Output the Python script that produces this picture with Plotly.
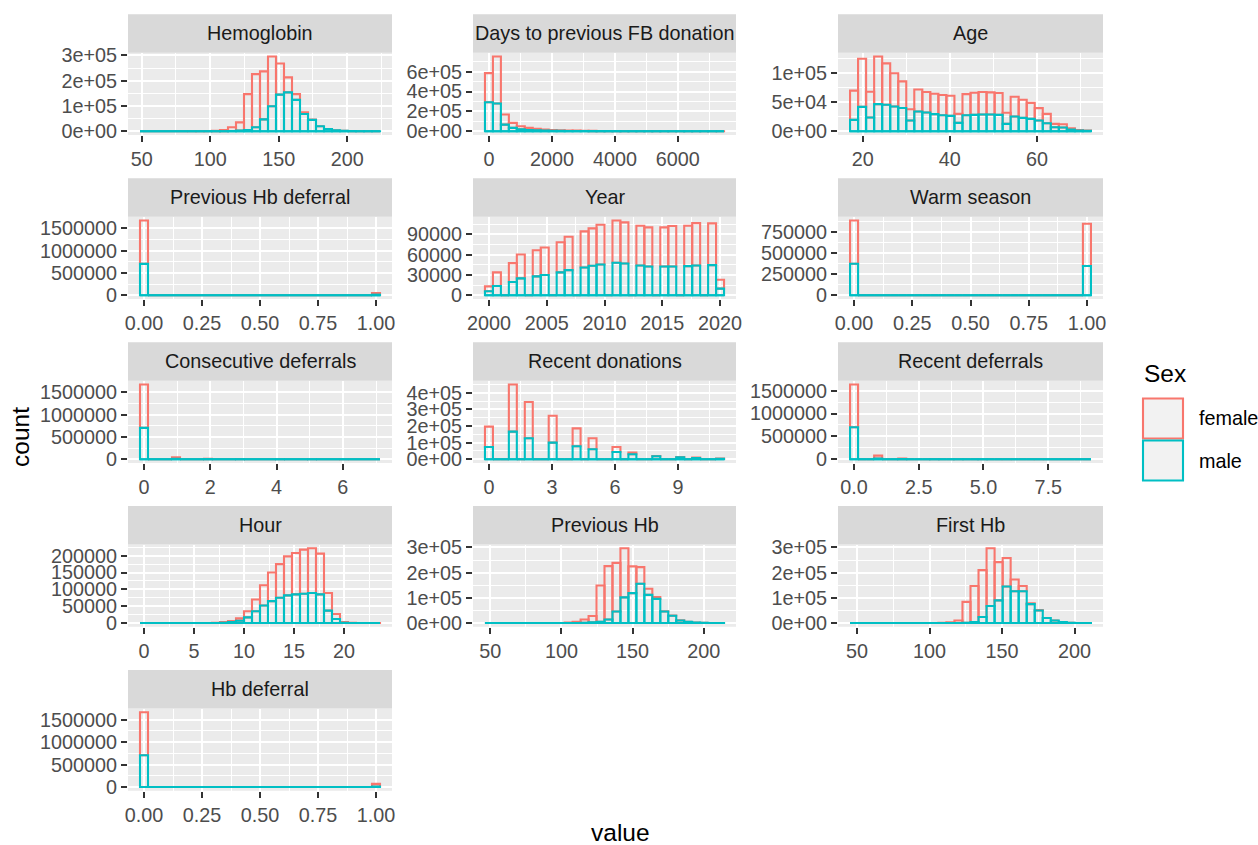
import plotly.graph_objects as go

W, H = 1258, 845
FEMALE = "#F8766D"
MALE = "#00BFC4"
FONT = "Liberation Sans, Arial, sans-serif"

# ---------------- data (30 histogram bins per panel) ----------------
titles = ["Hemoglobin", "Days to previous FB donation", "Age",
          "Previous Hb deferral", "Year", "Warm season",
          "Consecutive deferrals", "Recent donations", "Recent deferrals",
          "Hour", "Previous Hb", "First Hb", "Hb deferral"]

# centre of first and last bin for each panel
bin_first = [51.7, 0, 18, 0, 2000, 0, 0, 0, 0, 0, 49, 48, 0]
bin_last = [221, 7340, 71.5, 1, 2020, 1, 7, 11, 9, 23.2, 211.5, 208.5, 1]

hemoglobin_male = [0, 0, 0, 0, 0, 0, 0, 0, 0, 100, 300, 1000, 3000, 5000, 16000, 47000, 99000, 145000, 154000, 124000, 68000, 45000, 20000, 9000, 4000, 1500, 600, 200, 100, 50]
hemoglobin_female = [0, 0, 0, 0, 0, 0, 100, 200, 500, 1400, 4700, 15000, 32000, 142000, 210000, 190000, 197000, 123000, 59000, 23000, 7000, 1000, 0, 0, 0, 0, 0, 0, 0, 0]

days_male = [292000, 279000, 67000, 34000, 20000, 13000, 10000, 7000, 5000, 4000, 3000, 2400, 2000, 1600, 1300, 1100, 900, 750, 650, 520, 440, 360, 300, 240, 200, 160, 120, 80, 60, 40]
days_female = [293000, 474000, 101000, 50000, 30000, 21000, 14000, 10000, 8000, 6000, 4500, 3600, 3000, 2400, 2000, 1700, 1400, 1150, 950, 780, 660, 540, 450, 360, 300, 240, 180, 120, 90, 60]

age_male = [19700, 42000, 23700, 46800, 45700, 42800, 40000, 18500, 34000, 32400, 29500, 27700, 26600, 14500, 27700, 28300, 28900, 28900, 28300, 12700, 25400, 23100, 21400, 18500, 13900, 6900, 6400, 2900, 1200, 600]
age_female = [50300, 83000, 44300, 82200, 71300, 57200, 46000, 19500, 38000, 35200, 35200, 34700, 34700, 15500, 36300, 38200, 38700, 38100, 37700, 19100, 34100, 31200, 27600, 21400, 16100, 5800, 5700, 2300, 1100, 500]

prev_def_male = [705000, 0, 0, 0, 0, 0, 0, 0, 0, 0, 0, 0, 0, 0, 0, 0, 0, 0, 0, 0, 0, 0, 0, 0, 0, 0, 0, 0, 0, 13000]
prev_def_female = [975000, 0, 0, 0, 0, 0, 0, 0, 0, 0, 0, 0, 0, 0, 0, 0, 0, 0, 0, 0, 0, 0, 0, 0, 0, 0, 0, 0, 0, 37000]

year_male = [5900, 13700, 0, 19600, 25000, 0, 27900, 29900, 0, 33800, 37200, 0, 41100, 43600, 45500, 0, 48000, 47000, 0, 44000, 42600, 0, 42600, 42600, 0, 43100, 44000, 0, 44500, 9800]
year_female = [7300, 20100, 0, 27900, 35200, 0, 38700, 40600, 0, 44500, 49400, 0, 53400, 55300, 58700, 0, 62600, 60700, 0, 58800, 57700, 0, 57700, 59700, 0, 59700, 62700, 0, 61700, 13200]

warm_male = [372000, 0, 0, 0, 0, 0, 0, 0, 0, 0, 0, 0, 0, 0, 0, 0, 0, 0, 0, 0, 0, 0, 0, 0, 0, 0, 0, 0, 0, 346000]
warm_female = [513000, 0, 0, 0, 0, 0, 0, 0, 0, 0, 0, 0, 0, 0, 0, 0, 0, 0, 0, 0, 0, 0, 0, 0, 0, 0, 0, 0, 0, 499000]

consec_male = [703000, 0, 0, 0, 11000, 0, 0, 0, 3500, 0, 0, 0, 900, 0, 0, 0, 0, 300, 0, 0, 0, 120, 0, 0, 0, 50, 0, 0, 0, 30]
consec_female = [972000, 0, 0, 0, 34000, 0, 0, 0, 7500, 0, 0, 0, 2100, 0, 0, 0, 0, 700, 0, 0, 0, 280, 0, 0, 0, 100, 0, 0, 0, 50]

recdon_male = [74000, 0, 0, 166000, 0, 126000, 0, 0, 100000, 0, 0, 78000, 0, 60000, 0, 0, 44000, 0, 30000, 0, 0, 18000, 0, 0, 12000, 0, 8000, 0, 0, 3500]
recdon_female = [122000, 0, 0, 284000, 0, 218000, 0, 0, 162000, 0, 0, 108000, 0, 66000, 0, 0, 30000, 0, 10000, 0, 0, 2000, 0, 0, 2000, 0, 2000, 0, 0, 500]

recdef_male = [699000, 0, 0, 15000, 0, 0, 3500, 0, 0, 0, 1200, 0, 0, 400, 0, 0, 150, 0, 0, 60, 0, 0, 0, 30, 0, 0, 15, 0, 0, 5]
recdef_female = [938000, 0, 0, 65000, 0, 0, 10500, 0, 0, 0, 3300, 0, 0, 1100, 0, 0, 450, 0, 0, 190, 0, 0, 0, 70, 0, 0, 35, 0, 0, 15]

hour_male = [0, 0, 0, 0, 0, 0, 0, 0, 100, 300, 1000, 3000, 7000, 17000, 35000, 52000, 65000, 75000, 82000, 85000, 87000, 89000, 85000, 37000, 12000, 1000, 200, 50, 20, 10]
hour_female = [0, 0, 0, 0, 0, 0, 0, 0, 100, 500, 2000, 3000, 7000, 18000, 35000, 60000, 85000, 100000, 116000, 123000, 131000, 133000, 121000, 52000, 15000, 2000, 300, 50, 30, 10]

prevhb_male = [0, 0, 0, 0, 0, 0, 0, 0, 0, 50, 200, 500, 1000, 3000, 5000, 14000, 46000, 102000, 119000, 156000, 112000, 96000, 46000, 29000, 10000, 5000, 2500, 1000, 400, 200]
prevhb_female = [0, 0, 0, 0, 0, 0, 0, 0, 0, 450, 1800, 4500, 13000, 25000, 144000, 212000, 193000, 195000, 106000, 66000, 24000, 7000, 1000, 1000, 1000, 0, 0, 0, 0, 0]

firsthb_male = [0, 0, 0, 0, 0, 0, 0, 0, 0, 0, 50, 100, 200, 500, 1000, 4000, 24000, 68000, 90000, 145000, 126000, 126000, 75000, 50000, 20000, 10000, 4000, 1500, 500, 200]
firsthb_female = [0, 0, 0, 0, 0, 0, 0, 0, 0, 200, 450, 900, 2800, 9500, 83000, 143000, 186000, 229000, 152000, 113000, 47000, 21000, 3000, 2000, 0, 0, 0, 0, 0, 0]

hbdef_male = [708000, 0, 0, 0, 0, 0, 0, 0, 0, 0, 0, 0, 0, 0, 0, 0, 0, 0, 0, 0, 0, 0, 0, 0, 0, 0, 0, 0, 0, 12000]
hbdef_female = [960000, 0, 0, 0, 0, 0, 0, 0, 0, 0, 0, 0, 0, 0, 0, 0, 0, 0, 0, 0, 0, 0, 0, 0, 0, 0, 0, 0, 0, 60000]

male_series = [hemoglobin_male, days_male, age_male, prev_def_male, year_male, warm_male,
               consec_male, recdon_male, recdef_male, hour_male, prevhb_male, firsthb_male, hbdef_male]
female_series = [hemoglobin_female, days_female, age_female, prev_def_female, year_female, warm_female,
                 consec_female, recdon_female, recdef_female, hour_female, prevhb_female, firsthb_female, hbdef_female]

# ---------------- tick breaks & labels ----------------
unit_ticks = [0, 0.25, 0.5, 0.75, 1]
unit_labels = ["0.00", "0.25", "0.50", "0.75", "1.00"]
x_ticks = [[50, 100, 150, 200], [0, 2000, 4000, 6000], [20, 40, 60],
           unit_ticks, [2000, 2005, 2010, 2015, 2020], unit_ticks,
           [0, 2, 4, 6], [0, 3, 6, 9], [0, 2.5, 5, 7.5],
           [0, 5, 10, 15, 20], [50, 100, 150, 200], [50, 100, 150, 200], unit_ticks]
x_labels = [["50", "100", "150", "200"], ["0", "2000", "4000", "6000"], ["20", "40", "60"],
            unit_labels, ["2000", "2005", "2010", "2015", "2020"], unit_labels,
            ["0", "2", "4", "6"], ["0", "3", "6", "9"], ["0.0", "2.5", "5.0", "7.5"],
            ["0", "5", "10", "15", "20"], ["50", "100", "150", "200"], ["50", "100", "150", "200"], unit_labels]
big_ticks = [0, 500000, 1000000, 1500000]
big_labels = ["0", "500000", "1000000", "1500000"]
y_ticks = [[0, 1e5, 2e5, 3e5], [0, 2e5, 4e5, 6e5], [0, 5e4, 1e5],
           big_ticks, [0, 30000, 60000, 90000], [0, 250000, 500000, 750000],
           big_ticks, [0, 1e5, 2e5, 3e5, 4e5], big_ticks,
           [0, 50000, 100000, 150000, 200000], [0, 1e5, 2e5, 3e5], [0, 1e5, 2e5, 3e5], big_ticks]
y_labels = [["0e+00", "1e+05", "2e+05", "3e+05"], ["0e+00", "2e+05", "4e+05", "6e+05"], ["0e+00", "5e+04", "1e+05"],
            big_labels, ["0", "30000", "60000", "90000"], ["0", "250000", "500000", "750000"],
            big_labels, ["0e+00", "1e+05", "2e+05", "3e+05", "4e+05"], big_labels,
            ["0", "50000", "100000", "150000", "200000"], ["0e+00", "1e+05", "2e+05", "3e+05"],
            ["0e+00", "1e+05", "2e+05", "3e+05"], big_labels]

# ---------------- layout geometry (pixels) ----------------
COL_X = [(128, 392), (473, 736), (838, 1103)]
PANEL_TOP = [52.7, 216.7, 380.7, 544.5, 708.5]
PANEL_H = 82.3
STRIP_H = 38.5
LW = 2.1
TXT = 19.8
TITLE = 24.5


def px_x(v):
    return v / W


def px_y(v):
    return 1 - v / H


def minor_breaks(major, lo, hi):
    d = major[1] - major[0]
    b = list(major)
    if lo < b[0]:
        b = [b[0] - d] + b
    if hi > b[-1]:
        b = b + [b[-1] + d]
    mids = [(b[k] + b[k + 1]) / 2 for k in range(len(b) - 1)]
    return [m for m in mids if lo <= m <= hi]


fig = go.Figure()
layout = {}
shapes = []
annotations = []

for i, title in enumerate(titles):
    r, c = divmod(i, 3)
    n = len(male_series[i])
    lo_c, hi_c = bin_first[i], bin_last[i]
    w = (hi_c - lo_c) / (n - 1)
    centers = [lo_c + k * w for k in range(n)]
    male = male_series[i]
    female = female_series[i]
    totals = [m + f for m, f in zip(male, female)]
    edge_lo, edge_hi = lo_c - w / 2, hi_c + w / 2
    span = edge_hi - edge_lo
    xr = [edge_lo - 0.05 * span, edge_hi + 0.05 * span]
    ymax = max(totals)
    yr = [-0.05 * ymax, 1.05 * ymax]

    sfx = "" if i == 0 else str(i + 1)
    xref, yref = "x" + sfx, "y" + sfx

    fig.add_trace(go.Bar(x=centers, y=female, base=male, width=w, xaxis=xref, yaxis=yref,
                         marker=dict(color="rgba(0,0,0,0)", line=dict(color=FEMALE, width=LW)),
                         showlegend=False, hoverinfo="skip"))
    fig.add_trace(go.Bar(x=centers, y=male, width=w, xaxis=xref, yaxis=yref,
                         marker=dict(color="rgba(0,0,0,0)", line=dict(color=MALE, width=LW)),
                         showlegend=False, hoverinfo="skip"))
    fig.add_trace(go.Scatter(x=[edge_lo, edge_hi], y=[0, 0], mode="lines", xaxis=xref, yaxis=yref,
                             line=dict(color=MALE, width=LW), showlegend=False, hoverinfo="skip"))

    x0, x1 = COL_X[c]
    ptop = PANEL_TOP[r]
    pbot = ptop + PANEL_H
    common = dict(showgrid=True, gridcolor="white", gridwidth=LW, zeroline=False, showline=False,
                  ticks="outside", ticklen=6, tickwidth=2, tickcolor="#333333",
                  tickfont=dict(family=FONT, size=TXT, color="#4D4D4D"), tickmode="array",
                  automargin=False, fixedrange=True)
    layout["xaxis" + sfx] = dict(domain=[px_x(x0), px_x(x1)], anchor=yref, range=xr,
                                 tickvals=x_ticks[i], ticktext=x_labels[i],
                                 minor=dict(tickmode="array", tickvals=minor_breaks(x_ticks[i], xr[0], xr[1]),
                                            showgrid=True, gridcolor="white", gridwidth=LW / 2, ticks=""),
                                 **common)
    layout["yaxis" + sfx] = dict(domain=[px_y(pbot), px_y(ptop)], anchor=xref, range=yr,
                                 tickvals=y_ticks[i], ticktext=y_labels[i],
                                 minor=dict(tickmode="array", tickvals=minor_breaks(y_ticks[i], yr[0], yr[1]),
                                            showgrid=True, gridcolor="white", gridwidth=LW / 2, ticks=""),
                                 **common)
    # strip
    shapes.append(dict(type="rect", xref="paper", yref="paper", x0=px_x(x0), x1=px_x(x1),
                       y0=px_y(ptop), y1=px_y(ptop - STRIP_H), fillcolor="#D9D9D9", line=dict(width=0),
                       layer="below"))
    annotations.append(dict(text=title, xref="paper", yref="paper", x=px_x((x0 + x1) / 2),
                            y=px_y(ptop - STRIP_H / 2), showarrow=False, xanchor="center", yanchor="middle",
                            font=dict(family=FONT, size=TXT, color="#1A1A1A")))

# axis titles
annotations.append(dict(text="count", xref="paper", yref="paper", x=px_x(20), y=px_y(437), textangle=-90,
                        showarrow=False, xanchor="center", yanchor="middle",
                        font=dict(family=FONT, size=TITLE, color="black")))
annotations.append(dict(text="value", xref="paper", yref="paper", x=px_x(620), y=px_y(832),
                        showarrow=False, xanchor="center", yanchor="middle",
                        font=dict(family=FONT, size=TITLE, color="black")))

# legend (drawn manually)
legend_names = ["female", "male"]
legend_colors = [FEMALE, MALE]
annotations.append(dict(text="Sex", xref="paper", yref="paper", x=px_x(1142), y=px_y(373),
                        showarrow=False, xanchor="left", yanchor="middle",
                        font=dict(family=FONT, size=TITLE, color="black")))
key_top = 397.5
key_h = 42
for k, (name, col) in enumerate(zip(legend_names, legend_colors)):
    t = key_top + k * key_h
    shapes.append(dict(type="rect", xref="paper", yref="paper", x0=px_x(1143), x1=px_x(1183),
                       y0=px_y(t + key_h - 1), y1=px_y(t + 1), fillcolor="#F2F2F2",
                       line=dict(color=col, width=LW)))
    annotations.append(dict(text=name, xref="paper", yref="paper", x=px_x(1197), y=px_y(t + key_h / 2),
                            showarrow=False, xanchor="left", yanchor="middle",
                            font=dict(family=FONT, size=TXT, color="black")))

fig.update_layout(width=W, height=H, margin=dict(l=0, r=0, t=0, b=0), paper_bgcolor="white",
                  plot_bgcolor="#EBEBEB", barmode="overlay", shapes=shapes, annotations=annotations,
                  showlegend=False, **layout)

fig.write_html("out.html")
